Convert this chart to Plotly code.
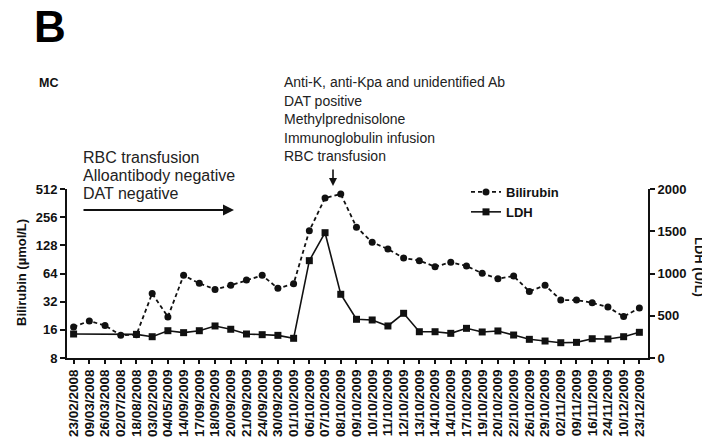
import plotly.graph_objects as go

dates = ["23/02/2008", "09/03/2008", "26/03/2008", "02/07/2008", "18/08/2008",
         "03/02/2009", "04/05/2009", "14/09/2009", "17/09/2009", "18/09/2009",
         "20/09/2009", "21/09/2009", "24/09/2009", "30/09/2009", "01/10/2009",
         "06/10/2009", "07/10/2009", "08/10/2009", "09/10/2009", "10/10/2009",
         "11/10/2009", "12/10/2009", "13/10/2009", "14/10/2009", "14/10/2009",
         "17/10/2009", "19/10/2009", "20/10/2009", "22/10/2009", "26/10/2009",
         "29/10/2009", "02/11/2009", "09/11/2009", "16/11/2009", "24/11/2009",
         "10/12/2009", "23/12/2009"]

bilirubin = [17.2, 19.9, 17.8, 14.0, 14.2, 39.2, 22.0, 61.2, 50.2, 43.3,
             47.8, 54.5, 61.2, 44.4, 49.7, 183, 410, 452, 200, 138,
             117, 93.8, 87.8, 75.7, 84.4, 77.0, 64.3, 56.3, 60.1, 41.2,
             47.8, 33.3, 33.3, 31.1, 28.0, 22.2, 27.3]

ldh = [284, None, None, None, 280, 252, 323, 300, 323, 379,
       340, 284, 276, 268, 233, 1152, 1483, 754, 458, 450,
       379, 529, 311, 311, 292, 351, 308, 320, 272, 221,
       201, 181, 185, 228, 225, 252, 304]

bili_ticks = [8, 16, 32, 64, 128, 256, 512]
ldh_ticks = [0, 500, 1000, 1500, 2000]

left_note = ["RBC transfusion", "Alloantibody negative", "DAT negative"]
right_note = ["Anti-K, anti-Kpa and unidentified Ab", "DAT positive",
              "Methylprednisolone", "Immunoglobulin infusion", "RBC transfusion"]

idx = list(range(len(dates)))
FONT = "Arial, Liberation Sans, sans-serif"
INK = "#111111"

# The page body has an 8px default margin; size the figure to fill the rest
OFF = 8
FW, FH = 710 - OFF, 441 - OFF
# plot area in window pixels: x 67..648, y 189..358
L, T = 67 - OFF, 189 - OFF
R = FW - (648 - OFF)
B = FH - (358 - OFF)
W, H = FW - L - R, FH - T - B


def px(x):
    return (x - OFF - L) / W


def py(y):
    return (FH - B - (y - OFF)) / H


fig = go.Figure()
fig.add_trace(go.Scatter(
    x=idx, y=bilirubin, name="Bilirubin", mode="lines+markers",
    line=dict(color=INK, width=1.8, dash="4px,3px"),
    marker=dict(symbol="circle", size=7, color=INK),
    yaxis="y"))
fig.add_trace(go.Scatter(
    x=idx, y=ldh, name="LDH", mode="lines+markers", connectgaps=True,
    line=dict(color=INK, width=1.6),
    marker=dict(symbol="square", size=7, color=INK),
    yaxis="y2"))

fig.update_layout(
    width=FW, height=FH,
    margin=dict(l=L, r=R, t=T, b=B, autoexpand=False),
    paper_bgcolor="white", plot_bgcolor="white",
    font=dict(family=FONT, color=INK),
    showlegend=True,
    legend=dict(x=px(466), y=py(177), xanchor="left", yanchor="top",
                font=dict(family=FONT, size=13, color=INK, weight="bold"),
                bgcolor="rgba(0,0,0,0)", tracegroupgap=0, itemwidth=30),
    xaxis=dict(
        range=[-0.42, 36.55], tickmode="array", tickvals=idx, ticktext=dates,
        tickangle=-90, showgrid=False, zeroline=False, automargin=False,
        showline=True, linecolor=INK, linewidth=2,
        ticks="outside", ticklen=4, tickwidth=1.5, tickcolor=INK,
        tickfont=dict(family=FONT, size=13.5, color=INK, weight="bold")),
    yaxis=dict(
        type="log", range=[0.90309, 2.70927], tickmode="array",
        tickvals=bili_ticks, ticktext=[str(v) for v in bili_ticks],
        showgrid=False, zeroline=False, automargin=False,
        showline=True, linecolor=INK, linewidth=2,
        ticks="outside", ticklen=5, tickwidth=1.5, tickcolor=INK,
        tickfont=dict(family=FONT, size=13, color=INK, weight="bold")),
    yaxis2=dict(
        overlaying="y", side="right", range=[0, 2000], tickmode="array",
        tickvals=ldh_ticks, ticktext=[str(v) for v in ldh_ticks],
        showgrid=False, zeroline=False, automargin=False,
        showline=True, linecolor=INK, linewidth=2,
        ticks="outside", ticklen=5, tickwidth=1.5, tickcolor=INK,
        tickfont=dict(family=FONT, size=13, color=INK, weight="bold")),
)

ann = []
ann.append(dict(text="<b>B</b>", x=px(32), y=py(26), xref="paper", yref="paper",
                xanchor="left", yanchor="middle", showarrow=False,
                font=dict(family=FONT, size=44, color="black")))
ann.append(dict(text="<b>MC</b>", x=px(37), y=py(83), xref="paper", yref="paper",
                xanchor="left", yanchor="middle", showarrow=False,
                font=dict(family=FONT, size=12.5, color=INK)))
for i, line in enumerate(left_note):
    ann.append(dict(text=line, x=px(81), y=py(157 + 18 * i), xref="paper", yref="paper",
                    xanchor="left", yanchor="middle", showarrow=False,
                    font=dict(family=FONT, size=16, color="#222222")))
for i, line in enumerate(right_note):
    ann.append(dict(text=line, x=px(282), y=py(82 + 18.5 * i), xref="paper", yref="paper",
                    xanchor="left", yanchor="middle", showarrow=False,
                    font=dict(family=FONT, size=14, color="#222222")))
ann.append(dict(text="", x=px(234), y=py(210), xref="paper", yref="paper",
                ax=-152, ay=0, showarrow=True, arrowhead=2, arrowsize=1,
                arrowwidth=2.2, arrowcolor=INK))
ann.append(dict(text="", x=px(333), y=py(186), xref="paper", yref="paper",
                ax=0, ay=-18, showarrow=True, arrowhead=2, arrowsize=1,
                arrowwidth=1.6, arrowcolor=INK))
ann.append(dict(text="<b>Bilirubin (µmol/L)</b>", x=px(21), y=py(273),
                xref="paper", yref="paper", textangle=-90,
                xanchor="center", yanchor="middle", showarrow=False,
                font=dict(family=FONT, size=13, color=INK)))
ann.append(dict(text="<b>LDH (U/L)</b>", x=px(700), y=py(267),
                xref="paper", yref="paper", textangle=90,
                xanchor="center", yanchor="middle", showarrow=False,
                font=dict(family=FONT, size=13, color=INK)))
fig.update_layout(annotations=ann)

fig.write_html("out.html")
